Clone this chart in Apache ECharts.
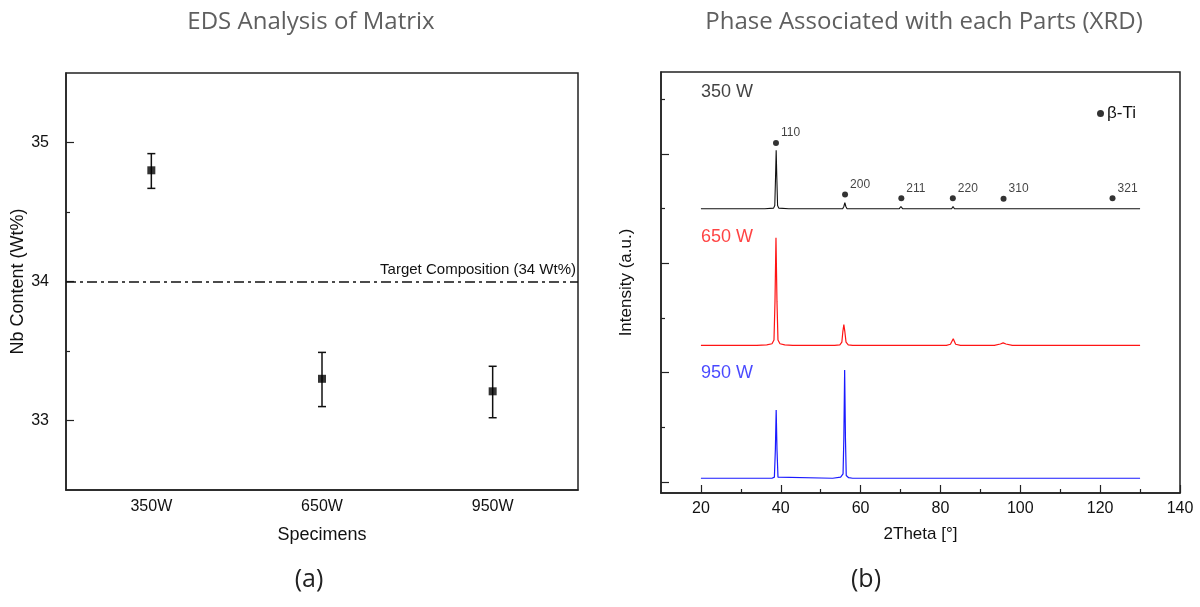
<!DOCTYPE html>
<html><head><meta charset="utf-8">
<script src="https://cdn.jsdelivr.net/npm/echarts@6/dist/echarts.min.js"></script>
<style>html,body{margin:0;padding:0;background:#fff}#c{width:1200px;height:607px}</style>
</head><body><div id="c"></div>
<script>
// ---- Panel (a): EDS ----
const specimens = ['350W', '650W', '950W'];
const nbMean = [34.80, 33.30, 33.21];
const nbLow = [34.67, 33.10, 33.02];
const nbHigh = [34.92, 33.49, 33.39];
const targetNb = 34;
const edsMajorTicks = [33, 34, 35];
const edsMinorTicks = [33.5, 34.5];

// ---- Panel (b): XRD (2Theta, offset intensity a.u.) ----
const xrd350 = [[20,5.0],[30,5.0],[36,5.0],[38.2,5.01],[38.5,5.06],[38.7,5.6],[38.85,6.07],[39.0,5.6],[39.2,5.06],[39.5,5.01],[42,5.0],[50,5.0],[55.5,5.0],[55.8,5.04],[56.05,5.11],[56.3,5.04],[56.6,5.0],[69.7,5.0],[70.1,5.04],[70.5,5.0],[82.8,5.0],[83.15,5.04],[83.5,5.0],[95.4,5.0],[95.8,5.02],[96.2,5.0],[122.5,5.0],[123,5.015],[123.5,5.0],[130,5.0]];
const xrd650 = [[20,2.5],[34,2.5],[36.5,2.51],[37.8,2.53],[38.3,2.6],[38.55,3.3],[38.8,4.47],[39.05,3.3],[39.3,2.6],[39.8,2.53],[41,2.51],[43,2.5],[53.5,2.5],[54.8,2.51],[55.3,2.56],[55.55,2.75],[55.8,2.88],[56.05,2.75],[56.35,2.56],[56.9,2.51],[58,2.5],[81.5,2.5],[82.5,2.52],[83.2,2.62],[83.8,2.52],[85,2.5],[93.5,2.5],[95,2.525],[95.7,2.545],[96.4,2.525],[98,2.5],[130,2.5]];
const xrd950 = [[20,0.07],[37.8,0.07],[38.4,0.09],[38.65,0.6],[38.85,1.32],[39.05,0.6],[39.3,0.09],[39.8,0.07],[53,0.07],[55,0.09],[55.6,0.15],[55.8,0.8],[56.0,2.05],[56.2,0.8],[56.4,0.12],[57,0.08],[58,0.07],[82.8,0.07],[83.2,0.09],[83.6,0.07],[95.3,0.07],[95.8,0.095],[96.3,0.07],[130,0.07]];
const peakPos = [38.8, 56.1, 70.2, 83.1, 95.8, 123.1];
const peakMarkY = [6.2, 5.26, 5.19, 5.19, 5.18, 5.19];
const peakHkl = ['110', '200', '211', '220', '310', '321'];
const traceNames = ['350 W', '650 W', '950 W'];
const traceNameX = [20, 20, 20];
const traceNameY = [7.14, 4.48, 1.99];
const traceColors = ['#111111', '#ff1414', '#1a1aff'];
const xrdMajorX = [20, 40, 60, 80, 100, 120, 140];
const xrdMinorX = [30, 50, 70, 90, 110, 130];
const xrdMajorY = [0, 2, 4, 6];
const xrdMinorY = [1, 3, 5, 7];

const chart = echarts.init(document.getElementById('c'));
const AX = '#222';
const FONT = '"Liberation Sans", Arial, sans-serif';
const TFONT = '"Open Sans", sans-serif';

const option = {
  animation: false,
  textStyle: { fontFamily: FONT },
  graphic: [
    { type: 'text', x: 311, y: 22, style: { text: 'EDS Analysis of Matrix', font: '24px ' + TFONT, fill: '#5f5f5f', textAlign: 'center', textVerticalAlign: 'middle' } },
    { type: 'text', x: 924, y: 22, style: { text: 'Phase Associated with each Parts (XRD)', font: '24px ' + TFONT, fill: '#5f5f5f', textAlign: 'center', textVerticalAlign: 'middle' } },
    { type: 'text', x: 309, y: 580, style: { text: '(a)', font: '25px ' + TFONT, fill: '#222', textAlign: 'center', textVerticalAlign: 'middle' } },
    { type: 'text', x: 866, y: 580, style: { text: '(b)', font: '25px ' + TFONT, fill: '#222', textAlign: 'center', textVerticalAlign: 'middle' } }
  ],
  legend: {
    data: ['β-Ti'], left: 1092, top: 100, icon: 'circle', itemWidth: 7, itemHeight: 7, itemGap: 4,
    textStyle: { fontSize: 17, color: '#111', fontFamily: FONT, padding: [0, 0, 0, -2] }, selectedMode: false
  },
  grid: [
    { left: 66, top: 73, width: 512, height: 417, show: true, borderColor: AX, borderWidth: 1.5, backgroundColor: 'transparent' },
    { left: 661, top: 72, width: 519, height: 421, show: true, borderColor: AX, borderWidth: 1.5, backgroundColor: 'transparent' }
  ],
  xAxis: [
    { type: 'category', gridIndex: 0, data: specimens, boundaryGap: true,
      name: 'Specimens', nameLocation: 'middle', nameGap: 36, nameTextStyle: { fontSize: 18, color: '#111' },
      axisLine: { onZero: false, lineStyle: { color: AX, width: 1.5 } },
      axisTick: { inside: true, length: 7, alignWithLabel: true, lineStyle: { color: AX, width: 1.2 } },
      axisLabel: { fontSize: 16, color: '#111', margin: 9 }, splitLine: { show: false } },
    { type: 'value', gridIndex: 1, min: 10, max: 140,
      name: '2Theta [°]', nameLocation: 'middle', nameGap: 33, nameTextStyle: { fontSize: 17, color: '#111' },
      axisLine: { onZero: false, lineStyle: { color: AX, width: 1.5 } },
      axisTick: { inside: true, length: 8, customValues: xrdMajorX, lineStyle: { color: AX, width: 1.2 } },
      axisLabel: { fontSize: 16, color: '#111', margin: 8, customValues: xrdMajorX }, splitLine: { show: false } },
    { type: 'value', gridIndex: 1, min: 10, max: 140, position: 'bottom',
      axisLine: { show: false, onZero: false }, axisLabel: { show: false }, splitLine: { show: false },
      axisTick: { inside: true, length: 4, customValues: xrdMinorX, lineStyle: { color: AX, width: 1.2 } } }
  ],
  yAxis: [
    { type: 'value', gridIndex: 0, min: 32.5, max: 35.5,
      name: 'Nb Content (Wt%)', nameLocation: 'middle', nameGap: 37, nameTextStyle: { fontSize: 18, color: '#111' },
      axisLine: { show: true, onZero: false, lineStyle: { color: AX, width: 1.5 } },
      axisTick: { show: true, inside: true, length: 8, customValues: edsMajorTicks, lineStyle: { color: AX, width: 1.2 } },
      axisLabel: { fontSize: 16, color: '#111', margin: 17, customValues: edsMajorTicks }, splitLine: { show: false } },
    { type: 'value', gridIndex: 0, min: 32.5, max: 35.5, position: 'left',
      axisLine: { show: false, onZero: false }, axisLabel: { show: false }, splitLine: { show: false },
      axisTick: { show: true, inside: true, length: 4, customValues: edsMinorTicks, lineStyle: { color: AX, width: 1.2 } } },
    { type: 'value', gridIndex: 1, min: -0.2, max: 7.5,
      name: 'Intensity (a.u.)', nameLocation: 'middle', nameGap: 26, nameTextStyle: { fontSize: 17, color: '#111' },
      axisLine: { show: true, onZero: false, lineStyle: { color: AX, width: 1.5 } },
      axisTick: { show: true, inside: true, length: 8, customValues: xrdMajorY, lineStyle: { color: AX, width: 1.2 } },
      axisLabel: { show: false }, splitLine: { show: false } },
    { type: 'value', gridIndex: 1, min: -0.2, max: 7.5, position: 'left',
      axisLine: { show: false, onZero: false }, axisLabel: { show: false }, splitLine: { show: false },
      axisTick: { show: true, inside: true, length: 4, customValues: xrdMinorY, lineStyle: { color: AX, width: 1.2 } } }
  ],
  series: [
    { type: 'custom', xAxisIndex: 0, yAxisIndex: 0, z: 3,
      data: specimens.map((s, i) => [i, nbLow[i], nbHigh[i]]),
      renderItem: function (params, api) {
        const x = api.value(0);
        const lo = api.coord([x, api.value(1)]);
        const hi = api.coord([x, api.value(2)]);
        const hw = 4;
        const st = { stroke: '#111', lineWidth: 1.5 };
        return { type: 'group', children: [
          { type: 'line', shape: { x1: hi[0], y1: hi[1], x2: lo[0], y2: lo[1] }, style: st },
          { type: 'line', shape: { x1: hi[0] - hw, y1: hi[1], x2: hi[0] + hw, y2: hi[1] }, style: st },
          { type: 'line', shape: { x1: lo[0] - hw, y1: lo[1], x2: lo[0] + hw, y2: lo[1] }, style: st }
        ] };
      }
    },
    { type: 'scatter', xAxisIndex: 0, yAxisIndex: 0, z: 4, symbol: 'rect', symbolSize: 8,
      itemStyle: { color: '#000' }, data: nbMean,
      markLine: { silent: true, symbol: 'none', animation: false,
        lineStyle: { color: '#111', width: 1.5, type: [10, 4, 3, 4] },
        label: { show: true, position: 'insideEndTop', formatter: 'Target Composition (34 Wt%)', fontSize: 15, color: '#111', distance: [2, 4] },
        data: [{ yAxis: targetNb }] } },
    { type: 'line', name: traceNames[0], xAxisIndex: 1, yAxisIndex: 2, data: xrd350, showSymbol: false, symbol: 'none',
      lineStyle: { color: traceColors[0], width: 1.1 } },
    { type: 'line', name: traceNames[1], xAxisIndex: 1, yAxisIndex: 2, data: xrd650, showSymbol: false, symbol: 'none',
      lineStyle: { color: traceColors[1], width: 1.2 } },
    { type: 'line', name: traceNames[2], xAxisIndex: 1, yAxisIndex: 2, data: xrd950, showSymbol: false, symbol: 'none',
      lineStyle: { color: traceColors[2], width: 1.2 } },
    { type: 'scatter', name: 'β-Ti', xAxisIndex: 1, yAxisIndex: 2, symbol: 'circle', symbolSize: 6,
      itemStyle: { color: '#000' },
      data: peakPos.map((p, i) => ({ value: [p, peakMarkY[i]], name: peakHkl[i] })),
      label: { show: true, position: 'right', distance: 2, offset: [0, -10], formatter: '{b}', fontSize: 12, color: '#111' } },
    { type: 'scatter', xAxisIndex: 1, yAxisIndex: 2, symbolSize: 0,
      data: traceNames.map((n, i) => ({ value: [traceNameX[i], traceNameY[i]], name: n,
        label: { color: traceColors[i] } })),
      label: { show: true, position: 'right', distance: 0, formatter: '{b}', fontSize: 18 } }
  ]
};
chart.setOption(option);
</script></body></html>
